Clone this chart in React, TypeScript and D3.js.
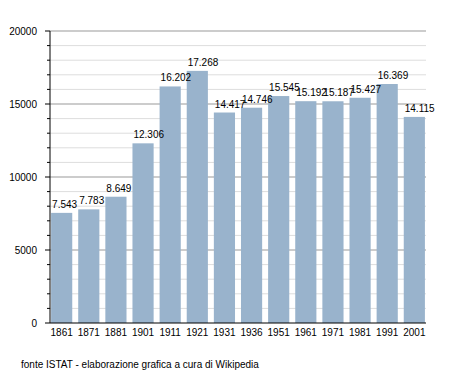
import * as d3 from "d3";

const years = ["1861", "1871", "1881", "1901", "1911", "1921", "1931", "1936", "1951", "1961", "1971", "1981", "1991", "2001"];
const population = [7543, 7783, 8649, 12306, 16202, 17268, 14417, 14746, 15545, 15192, 15187, 15427, 16369, 14115];
const yTicks = [0, 5000, 10000, 15000, 20000];
const source = "fonte ISTAT - elaborazione grafica a cura di Wikipedia";

const WIDTH = 455;
const HEIGHT = 373;
const LEFT = 50;
const RIGHT = 426;
const TOP = 31;
const BOTTOM = 323;
const BAR_COLOR = "#99b3cc";
const FONT = "'Liberation Sans', Arial, sans-serif";

const fmt = (v: number) => d3.format(",")(v).replace(/,/g, ".");

export default function App() {
  const x = d3.scaleBand<string>().domain(years).range([LEFT, RIGHT]).paddingInner(0.22).paddingOuter(0.04);
  const y = d3.scaleLinear().domain([0, 20000]).range([BOTTOM, TOP]);
  const minor = d3.range(1000, 20001, 1000).filter((v) => v % 5000 !== 0);

  return (
    <svg width={WIDTH} height={HEIGHT} style={{ position: "absolute", left: 0, top: 0, background: "#fff" }} fontFamily={FONT}>
      {/* grid */}
      {minor.map((v) => (
        <line key={"m" + v} x1={LEFT} x2={RIGHT} y1={y(v)} y2={y(v)} stroke="#dddddd" strokeWidth={1} />
      ))}
      {yTicks.slice(1).map((v) => (
        <line key={"g" + v} x1={LEFT} x2={RIGHT} y1={y(v)} y2={y(v)} stroke="#999999" strokeWidth={1} />
      ))}

      {/* bars */}
      {population.map((v, i) => (
        <rect key={years[i]} x={x(years[i])} y={y(v)} width={x.bandwidth()} height={BOTTOM - y(v)} fill={BAR_COLOR} />
      ))}

      {/* value labels */}
      {population.map((v, i) => (
        <text key={"l" + i} x={(x(years[i]) as number) + 1} y={y(v) - 5} fontSize={10} fill="#000">
          {fmt(v)}
        </text>
      ))}

      {/* y axis */}
      <line x1={LEFT} x2={LEFT} y1={TOP} y2={BOTTOM} stroke="#000" />
      {minor.map((v) => (
        <line key={"t" + v} x1={LEFT - 3} x2={LEFT} y1={y(v)} y2={y(v)} stroke="#000" />
      ))}
      {yTicks.map((v) => (
        <g key={"y" + v}>
          <line x1={LEFT - 5} x2={LEFT} y1={y(v)} y2={y(v)} stroke="#000" />
          <text x={37} y={y(v)} dy="0.35em" textAnchor="end" fontSize={10}>
            {v}
          </text>
        </g>
      ))}

      {/* x axis */}
      <line x1={LEFT} x2={RIGHT} y1={BOTTOM} y2={BOTTOM} stroke="#000" />
      {years.map((yr) => (
        <text key={"x" + yr} x={(x(yr) as number) + x.bandwidth() / 2} y={336} textAnchor="middle" fontSize={10}>
          {yr}
        </text>
      ))}

      <text x={21} y={368} fontSize={10}>
        {source}
      </text>
    </svg>
  );
}
